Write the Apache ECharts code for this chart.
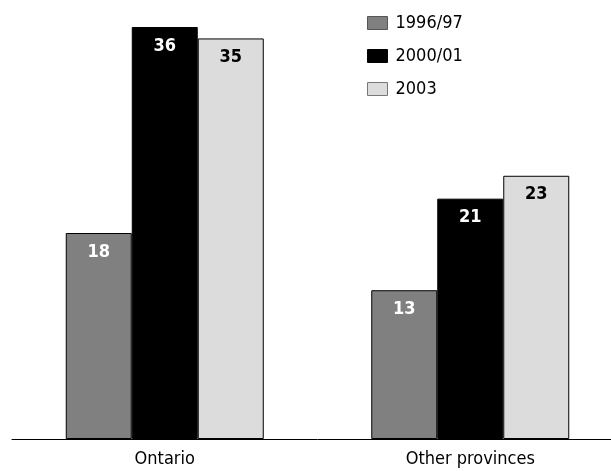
<!DOCTYPE html>
<html>
<head>
<meta charset="utf-8">
<script src="https://cdn.jsdelivr.net/npm/echarts@6/dist/echarts.min.js"></script>
<style>
  html, body { margin: 0; padding: 0; background: #fff; overflow: hidden; }
  /* a bit wider than the window so the axis runs off the right edge */
  #chart { width: 623px; height: 471px; }
</style>
</head>
<body>
<div id="chart"></div>
<script>
const categories = ['Ontario', 'Other provinces']
const seriesNames = ['1996/97', '2000/01', '2003']
const values9697 = [18, 13]
const values0001 = [36, 21]
const values2003 = [35, 23]

const font = '"DejaVu Sans Condensed", "Liberation Sans Narrow", Arial, sans-serif'
const fills = ['#808080', '#000000', '#dcdcdc']
const legendBorders = ['#555555', '#000000', '#777777']
const labelColors = ['#ffffff', '#ffffff', '#000000']

const chart = echarts.init(document.getElementById('chart'))

const makeSeries = (name, data, i) => ({
  name,
  type: 'bar',
  data,
  barWidth: 66,
  barGap: 0,
  itemStyle: {
    color: fills[i],
    borderColor: '#000',
    borderWidth: 1
  },
  label: {
    show: true,
    position: 'insideTop',
    distance: 10,
    color: labelColors[i],
    fontFamily: font,
    fontWeight: 'bold',
    fontSize: 18
  },
  emphasis: { disabled: true }
})

chart.setOption({
  animation: false,
  textStyle: { fontFamily: font },
  legend: {
    orient: 'vertical',
    left: 367,
    top: 13,
    padding: 0,
    itemWidth: 20,
    itemHeight: 13,
    itemGap: 13,
    icon: 'rect',
    textStyle: {
      fontSize: 18,
      color: '#000',
      lineHeight: 20,
      fontFamily: font,
      padding: [0, 0, 0, 3]
    },
    data: seriesNames.map((name, i) => ({
      name,
      itemStyle: { color: fills[i], borderColor: legendBorders[i], borderWidth: 1 }
    }))
  },
  grid: {
    left: 12,
    right: 0,
    top: 27,
    bottom: 32,
    containLabel: false
  },
  xAxis: {
    type: 'category',
    data: categories,
    axisLine: { lineStyle: { color: '#000', width: 1 } },
    axisTick: { show: false },
    axisLabel: { color: '#000', fontSize: 18, margin: 11, fontFamily: font }
  },
  yAxis: {
    type: 'value',
    min: 0,
    max: 36,
    show: false,
    splitLine: { show: false }
  },
  series: [
    makeSeries(seriesNames[0], values9697, 0),
    makeSeries(seriesNames[1], values0001, 1),
    makeSeries(seriesNames[2], values2003, 2)
  ]
})
</script>
</body>
</html>
